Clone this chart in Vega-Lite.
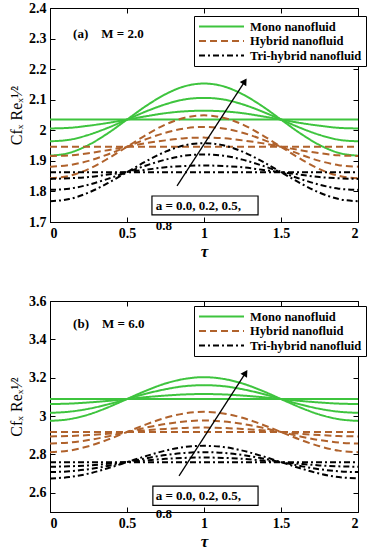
{
  "$schema": "https://vega.github.io/schema/vega-lite/v6.json",
  "background": "white",
  "padding": {"left": 8, "top": 0, "right": 0, "bottom": 0},
  "bounds": "flush",
  "spacing": 79,
  "datasets": {
    "curves": [
      {"p":"a","f":"Mono nanofluid","a":0,"t":0,"v":2.035},{"p":"a","f":"Mono nanofluid","a":0,"t":2,"v":2.035},
      {"p":"a","f":"Mono nanofluid","a":0.2,"t":0,"v":2.006},{"p":"a","f":"Mono nanofluid","a":0.2,"t":0.125,"v":2.008},{"p":"a","f":"Mono nanofluid","a":0.2,"t":0.25,"v":2.015},{"p":"a","f":"Mono nanofluid","a":0.2,"t":0.375,"v":2.024},{"p":"a","f":"Mono nanofluid","a":0.2,"t":0.5,"v":2.035},{"p":"a","f":"Mono nanofluid","a":0.2,"t":0.625,"v":2.046},{"p":"a","f":"Mono nanofluid","a":0.2,"t":0.75,"v":2.056},{"p":"a","f":"Mono nanofluid","a":0.2,"t":0.875,"v":2.062},{"p":"a","f":"Mono nanofluid","a":0.2,"t":1,"v":2.064},{"p":"a","f":"Mono nanofluid","a":0.2,"t":1.125,"v":2.062},{"p":"a","f":"Mono nanofluid","a":0.2,"t":1.25,"v":2.056},{"p":"a","f":"Mono nanofluid","a":0.2,"t":1.375,"v":2.046},{"p":"a","f":"Mono nanofluid","a":0.2,"t":1.5,"v":2.035},{"p":"a","f":"Mono nanofluid","a":0.2,"t":1.625,"v":2.024},{"p":"a","f":"Mono nanofluid","a":0.2,"t":1.75,"v":2.015},{"p":"a","f":"Mono nanofluid","a":0.2,"t":1.875,"v":2.008},{"p":"a","f":"Mono nanofluid","a":0.2,"t":2,"v":2.006},
      {"p":"a","f":"Mono nanofluid","a":0.5,"t":0,"v":1.964},{"p":"a","f":"Mono nanofluid","a":0.5,"t":0.125,"v":1.969},{"p":"a","f":"Mono nanofluid","a":0.5,"t":0.25,"v":1.985},{"p":"a","f":"Mono nanofluid","a":0.5,"t":0.375,"v":2.008},{"p":"a","f":"Mono nanofluid","a":0.5,"t":0.5,"v":2.035},{"p":"a","f":"Mono nanofluid","a":0.5,"t":0.625,"v":2.062},{"p":"a","f":"Mono nanofluid","a":0.5,"t":0.75,"v":2.085},{"p":"a","f":"Mono nanofluid","a":0.5,"t":0.875,"v":2.101},{"p":"a","f":"Mono nanofluid","a":0.5,"t":1,"v":2.106},{"p":"a","f":"Mono nanofluid","a":0.5,"t":1.125,"v":2.101},{"p":"a","f":"Mono nanofluid","a":0.5,"t":1.25,"v":2.085},{"p":"a","f":"Mono nanofluid","a":0.5,"t":1.375,"v":2.062},{"p":"a","f":"Mono nanofluid","a":0.5,"t":1.5,"v":2.035},{"p":"a","f":"Mono nanofluid","a":0.5,"t":1.625,"v":2.008},{"p":"a","f":"Mono nanofluid","a":0.5,"t":1.75,"v":1.985},{"p":"a","f":"Mono nanofluid","a":0.5,"t":1.875,"v":1.969},{"p":"a","f":"Mono nanofluid","a":0.5,"t":2,"v":1.964},
      {"p":"a","f":"Mono nanofluid","a":0.8,"t":0,"v":1.917},{"p":"a","f":"Mono nanofluid","a":0.8,"t":0.125,"v":1.926},{"p":"a","f":"Mono nanofluid","a":0.8,"t":0.25,"v":1.952},{"p":"a","f":"Mono nanofluid","a":0.8,"t":0.375,"v":1.99},{"p":"a","f":"Mono nanofluid","a":0.8,"t":0.5,"v":2.035},{"p":"a","f":"Mono nanofluid","a":0.8,"t":0.625,"v":2.08},{"p":"a","f":"Mono nanofluid","a":0.8,"t":0.75,"v":2.118},{"p":"a","f":"Mono nanofluid","a":0.8,"t":0.875,"v":2.144},{"p":"a","f":"Mono nanofluid","a":0.8,"t":1,"v":2.153},{"p":"a","f":"Mono nanofluid","a":0.8,"t":1.125,"v":2.144},{"p":"a","f":"Mono nanofluid","a":0.8,"t":1.25,"v":2.118},{"p":"a","f":"Mono nanofluid","a":0.8,"t":1.375,"v":2.08},{"p":"a","f":"Mono nanofluid","a":0.8,"t":1.5,"v":2.035},{"p":"a","f":"Mono nanofluid","a":0.8,"t":1.625,"v":1.99},{"p":"a","f":"Mono nanofluid","a":0.8,"t":1.75,"v":1.952},{"p":"a","f":"Mono nanofluid","a":0.8,"t":1.875,"v":1.926},{"p":"a","f":"Mono nanofluid","a":0.8,"t":2,"v":1.917},
      {"p":"a","f":"Hybrid nanofluid","a":0,"t":0,"v":1.946},{"p":"a","f":"Hybrid nanofluid","a":0,"t":2,"v":1.946},
      {"p":"a","f":"Hybrid nanofluid","a":0.2,"t":0,"v":1.916},{"p":"a","f":"Hybrid nanofluid","a":0.2,"t":0.125,"v":1.918},{"p":"a","f":"Hybrid nanofluid","a":0.2,"t":0.25,"v":1.925},{"p":"a","f":"Hybrid nanofluid","a":0.2,"t":0.375,"v":1.935},{"p":"a","f":"Hybrid nanofluid","a":0.2,"t":0.5,"v":1.946},{"p":"a","f":"Hybrid nanofluid","a":0.2,"t":0.625,"v":1.958},{"p":"a","f":"Hybrid nanofluid","a":0.2,"t":0.75,"v":1.967},{"p":"a","f":"Hybrid nanofluid","a":0.2,"t":0.875,"v":1.974},{"p":"a","f":"Hybrid nanofluid","a":0.2,"t":1,"v":1.976},{"p":"a","f":"Hybrid nanofluid","a":0.2,"t":1.125,"v":1.974},{"p":"a","f":"Hybrid nanofluid","a":0.2,"t":1.25,"v":1.967},{"p":"a","f":"Hybrid nanofluid","a":0.2,"t":1.375,"v":1.958},{"p":"a","f":"Hybrid nanofluid","a":0.2,"t":1.5,"v":1.946},{"p":"a","f":"Hybrid nanofluid","a":0.2,"t":1.625,"v":1.935},{"p":"a","f":"Hybrid nanofluid","a":0.2,"t":1.75,"v":1.925},{"p":"a","f":"Hybrid nanofluid","a":0.2,"t":1.875,"v":1.918},{"p":"a","f":"Hybrid nanofluid","a":0.2,"t":2,"v":1.916},
      {"p":"a","f":"Hybrid nanofluid","a":0.5,"t":0,"v":1.881},{"p":"a","f":"Hybrid nanofluid","a":0.5,"t":0.125,"v":1.886},{"p":"a","f":"Hybrid nanofluid","a":0.5,"t":0.25,"v":1.9},{"p":"a","f":"Hybrid nanofluid","a":0.5,"t":0.375,"v":1.921},{"p":"a","f":"Hybrid nanofluid","a":0.5,"t":0.5,"v":1.946},{"p":"a","f":"Hybrid nanofluid","a":0.5,"t":0.625,"v":1.971},{"p":"a","f":"Hybrid nanofluid","a":0.5,"t":0.75,"v":1.992},{"p":"a","f":"Hybrid nanofluid","a":0.5,"t":0.875,"v":2.006},{"p":"a","f":"Hybrid nanofluid","a":0.5,"t":1,"v":2.011},{"p":"a","f":"Hybrid nanofluid","a":0.5,"t":1.125,"v":2.006},{"p":"a","f":"Hybrid nanofluid","a":0.5,"t":1.25,"v":1.992},{"p":"a","f":"Hybrid nanofluid","a":0.5,"t":1.375,"v":1.971},{"p":"a","f":"Hybrid nanofluid","a":0.5,"t":1.5,"v":1.946},{"p":"a","f":"Hybrid nanofluid","a":0.5,"t":1.625,"v":1.921},{"p":"a","f":"Hybrid nanofluid","a":0.5,"t":1.75,"v":1.9},{"p":"a","f":"Hybrid nanofluid","a":0.5,"t":1.875,"v":1.886},{"p":"a","f":"Hybrid nanofluid","a":0.5,"t":2,"v":1.881},
      {"p":"a","f":"Hybrid nanofluid","a":0.8,"t":0,"v":1.843},{"p":"a","f":"Hybrid nanofluid","a":0.8,"t":0.125,"v":1.851},{"p":"a","f":"Hybrid nanofluid","a":0.8,"t":0.25,"v":1.873},{"p":"a","f":"Hybrid nanofluid","a":0.8,"t":0.375,"v":1.907},{"p":"a","f":"Hybrid nanofluid","a":0.8,"t":0.5,"v":1.946},{"p":"a","f":"Hybrid nanofluid","a":0.8,"t":0.625,"v":1.985},{"p":"a","f":"Hybrid nanofluid","a":0.8,"t":0.75,"v":2.019},{"p":"a","f":"Hybrid nanofluid","a":0.8,"t":0.875,"v":2.041},{"p":"a","f":"Hybrid nanofluid","a":0.8,"t":1,"v":2.049},{"p":"a","f":"Hybrid nanofluid","a":0.8,"t":1.125,"v":2.041},{"p":"a","f":"Hybrid nanofluid","a":0.8,"t":1.25,"v":2.019},{"p":"a","f":"Hybrid nanofluid","a":0.8,"t":1.375,"v":1.985},{"p":"a","f":"Hybrid nanofluid","a":0.8,"t":1.5,"v":1.946},{"p":"a","f":"Hybrid nanofluid","a":0.8,"t":1.625,"v":1.907},{"p":"a","f":"Hybrid nanofluid","a":0.8,"t":1.75,"v":1.873},{"p":"a","f":"Hybrid nanofluid","a":0.8,"t":1.875,"v":1.851},{"p":"a","f":"Hybrid nanofluid","a":0.8,"t":2,"v":1.843},
      {"p":"a","f":"Tri-hybrid nanofluid","a":0,"t":0,"v":1.863},{"p":"a","f":"Tri-hybrid nanofluid","a":0,"t":2,"v":1.863},
      {"p":"a","f":"Tri-hybrid nanofluid","a":0.2,"t":0,"v":1.841},{"p":"a","f":"Tri-hybrid nanofluid","a":0.2,"t":0.125,"v":1.843},{"p":"a","f":"Tri-hybrid nanofluid","a":0.2,"t":0.25,"v":1.847},{"p":"a","f":"Tri-hybrid nanofluid","a":0.2,"t":0.375,"v":1.855},{"p":"a","f":"Tri-hybrid nanofluid","a":0.2,"t":0.5,"v":1.863},{"p":"a","f":"Tri-hybrid nanofluid","a":0.2,"t":0.625,"v":1.871},{"p":"a","f":"Tri-hybrid nanofluid","a":0.2,"t":0.75,"v":1.879},{"p":"a","f":"Tri-hybrid nanofluid","a":0.2,"t":0.875,"v":1.883},{"p":"a","f":"Tri-hybrid nanofluid","a":0.2,"t":1,"v":1.885},{"p":"a","f":"Tri-hybrid nanofluid","a":0.2,"t":1.125,"v":1.883},{"p":"a","f":"Tri-hybrid nanofluid","a":0.2,"t":1.25,"v":1.879},{"p":"a","f":"Tri-hybrid nanofluid","a":0.2,"t":1.375,"v":1.871},{"p":"a","f":"Tri-hybrid nanofluid","a":0.2,"t":1.5,"v":1.863},{"p":"a","f":"Tri-hybrid nanofluid","a":0.2,"t":1.625,"v":1.855},{"p":"a","f":"Tri-hybrid nanofluid","a":0.2,"t":1.75,"v":1.847},{"p":"a","f":"Tri-hybrid nanofluid","a":0.2,"t":1.875,"v":1.843},{"p":"a","f":"Tri-hybrid nanofluid","a":0.2,"t":2,"v":1.841},
      {"p":"a","f":"Tri-hybrid nanofluid","a":0.5,"t":0,"v":1.805},{"p":"a","f":"Tri-hybrid nanofluid","a":0.5,"t":0.125,"v":1.809},{"p":"a","f":"Tri-hybrid nanofluid","a":0.5,"t":0.25,"v":1.822},{"p":"a","f":"Tri-hybrid nanofluid","a":0.5,"t":0.375,"v":1.841},{"p":"a","f":"Tri-hybrid nanofluid","a":0.5,"t":0.5,"v":1.863},{"p":"a","f":"Tri-hybrid nanofluid","a":0.5,"t":0.625,"v":1.885},{"p":"a","f":"Tri-hybrid nanofluid","a":0.5,"t":0.75,"v":1.904},{"p":"a","f":"Tri-hybrid nanofluid","a":0.5,"t":0.875,"v":1.917},{"p":"a","f":"Tri-hybrid nanofluid","a":0.5,"t":1,"v":1.921},{"p":"a","f":"Tri-hybrid nanofluid","a":0.5,"t":1.125,"v":1.917},{"p":"a","f":"Tri-hybrid nanofluid","a":0.5,"t":1.25,"v":1.904},{"p":"a","f":"Tri-hybrid nanofluid","a":0.5,"t":1.375,"v":1.885},{"p":"a","f":"Tri-hybrid nanofluid","a":0.5,"t":1.5,"v":1.863},{"p":"a","f":"Tri-hybrid nanofluid","a":0.5,"t":1.625,"v":1.841},{"p":"a","f":"Tri-hybrid nanofluid","a":0.5,"t":1.75,"v":1.822},{"p":"a","f":"Tri-hybrid nanofluid","a":0.5,"t":1.875,"v":1.809},{"p":"a","f":"Tri-hybrid nanofluid","a":0.5,"t":2,"v":1.805},
      {"p":"a","f":"Tri-hybrid nanofluid","a":0.8,"t":0,"v":1.768},{"p":"a","f":"Tri-hybrid nanofluid","a":0.8,"t":0.125,"v":1.775},{"p":"a","f":"Tri-hybrid nanofluid","a":0.8,"t":0.25,"v":1.796},{"p":"a","f":"Tri-hybrid nanofluid","a":0.8,"t":0.375,"v":1.827},{"p":"a","f":"Tri-hybrid nanofluid","a":0.8,"t":0.5,"v":1.863},{"p":"a","f":"Tri-hybrid nanofluid","a":0.8,"t":0.625,"v":1.899},{"p":"a","f":"Tri-hybrid nanofluid","a":0.8,"t":0.75,"v":1.93},{"p":"a","f":"Tri-hybrid nanofluid","a":0.8,"t":0.875,"v":1.951},{"p":"a","f":"Tri-hybrid nanofluid","a":0.8,"t":1,"v":1.958},{"p":"a","f":"Tri-hybrid nanofluid","a":0.8,"t":1.125,"v":1.951},{"p":"a","f":"Tri-hybrid nanofluid","a":0.8,"t":1.25,"v":1.93},{"p":"a","f":"Tri-hybrid nanofluid","a":0.8,"t":1.375,"v":1.899},{"p":"a","f":"Tri-hybrid nanofluid","a":0.8,"t":1.5,"v":1.863},{"p":"a","f":"Tri-hybrid nanofluid","a":0.8,"t":1.625,"v":1.827},{"p":"a","f":"Tri-hybrid nanofluid","a":0.8,"t":1.75,"v":1.796},{"p":"a","f":"Tri-hybrid nanofluid","a":0.8,"t":1.875,"v":1.775},{"p":"a","f":"Tri-hybrid nanofluid","a":0.8,"t":2,"v":1.768},
      {"p":"b","f":"Mono nanofluid","a":0,"t":0,"v":3.089},{"p":"b","f":"Mono nanofluid","a":0,"t":2,"v":3.089},
      {"p":"b","f":"Mono nanofluid","a":0.2,"t":0,"v":3.063},{"p":"b","f":"Mono nanofluid","a":0.2,"t":0.125,"v":3.065},{"p":"b","f":"Mono nanofluid","a":0.2,"t":0.25,"v":3.071},{"p":"b","f":"Mono nanofluid","a":0.2,"t":0.375,"v":3.079},{"p":"b","f":"Mono nanofluid","a":0.2,"t":0.5,"v":3.089},{"p":"b","f":"Mono nanofluid","a":0.2,"t":0.625,"v":3.099},{"p":"b","f":"Mono nanofluid","a":0.2,"t":0.75,"v":3.107},{"p":"b","f":"Mono nanofluid","a":0.2,"t":0.875,"v":3.113},{"p":"b","f":"Mono nanofluid","a":0.2,"t":1,"v":3.115},{"p":"b","f":"Mono nanofluid","a":0.2,"t":1.125,"v":3.113},{"p":"b","f":"Mono nanofluid","a":0.2,"t":1.25,"v":3.107},{"p":"b","f":"Mono nanofluid","a":0.2,"t":1.375,"v":3.099},{"p":"b","f":"Mono nanofluid","a":0.2,"t":1.5,"v":3.089},{"p":"b","f":"Mono nanofluid","a":0.2,"t":1.625,"v":3.079},{"p":"b","f":"Mono nanofluid","a":0.2,"t":1.75,"v":3.071},{"p":"b","f":"Mono nanofluid","a":0.2,"t":1.875,"v":3.065},{"p":"b","f":"Mono nanofluid","a":0.2,"t":2,"v":3.063},
      {"p":"b","f":"Mono nanofluid","a":0.5,"t":0,"v":3.017},{"p":"b","f":"Mono nanofluid","a":0.5,"t":0.125,"v":3.023},{"p":"b","f":"Mono nanofluid","a":0.5,"t":0.25,"v":3.038},{"p":"b","f":"Mono nanofluid","a":0.5,"t":0.375,"v":3.061},{"p":"b","f":"Mono nanofluid","a":0.5,"t":0.5,"v":3.089},{"p":"b","f":"Mono nanofluid","a":0.5,"t":0.625,"v":3.117},{"p":"b","f":"Mono nanofluid","a":0.5,"t":0.75,"v":3.14},{"p":"b","f":"Mono nanofluid","a":0.5,"t":0.875,"v":3.156},{"p":"b","f":"Mono nanofluid","a":0.5,"t":1,"v":3.161},{"p":"b","f":"Mono nanofluid","a":0.5,"t":1.125,"v":3.156},{"p":"b","f":"Mono nanofluid","a":0.5,"t":1.25,"v":3.14},{"p":"b","f":"Mono nanofluid","a":0.5,"t":1.375,"v":3.117},{"p":"b","f":"Mono nanofluid","a":0.5,"t":1.5,"v":3.089},{"p":"b","f":"Mono nanofluid","a":0.5,"t":1.625,"v":3.061},{"p":"b","f":"Mono nanofluid","a":0.5,"t":1.75,"v":3.038},{"p":"b","f":"Mono nanofluid","a":0.5,"t":1.875,"v":3.023},{"p":"b","f":"Mono nanofluid","a":0.5,"t":2,"v":3.017},
      {"p":"b","f":"Mono nanofluid","a":0.8,"t":0,"v":2.975},{"p":"b","f":"Mono nanofluid","a":0.8,"t":0.125,"v":2.984},{"p":"b","f":"Mono nanofluid","a":0.8,"t":0.25,"v":3.008},{"p":"b","f":"Mono nanofluid","a":0.8,"t":0.375,"v":3.045},{"p":"b","f":"Mono nanofluid","a":0.8,"t":0.5,"v":3.089},{"p":"b","f":"Mono nanofluid","a":0.8,"t":0.625,"v":3.133},{"p":"b","f":"Mono nanofluid","a":0.8,"t":0.75,"v":3.17},{"p":"b","f":"Mono nanofluid","a":0.8,"t":0.875,"v":3.194},{"p":"b","f":"Mono nanofluid","a":0.8,"t":1,"v":3.203},{"p":"b","f":"Mono nanofluid","a":0.8,"t":1.125,"v":3.194},{"p":"b","f":"Mono nanofluid","a":0.8,"t":1.25,"v":3.17},{"p":"b","f":"Mono nanofluid","a":0.8,"t":1.375,"v":3.133},{"p":"b","f":"Mono nanofluid","a":0.8,"t":1.5,"v":3.089},{"p":"b","f":"Mono nanofluid","a":0.8,"t":1.625,"v":3.045},{"p":"b","f":"Mono nanofluid","a":0.8,"t":1.75,"v":3.008},{"p":"b","f":"Mono nanofluid","a":0.8,"t":1.875,"v":2.984},{"p":"b","f":"Mono nanofluid","a":0.8,"t":2,"v":2.975},
      {"p":"b","f":"Hybrid nanofluid","a":0,"t":0,"v":2.917},{"p":"b","f":"Hybrid nanofluid","a":0,"t":2,"v":2.917},
      {"p":"b","f":"Hybrid nanofluid","a":0.2,"t":0,"v":2.894},{"p":"b","f":"Hybrid nanofluid","a":0.2,"t":0.125,"v":2.896},{"p":"b","f":"Hybrid nanofluid","a":0.2,"t":0.25,"v":2.901},{"p":"b","f":"Hybrid nanofluid","a":0.2,"t":0.375,"v":2.908},{"p":"b","f":"Hybrid nanofluid","a":0.2,"t":0.5,"v":2.917},{"p":"b","f":"Hybrid nanofluid","a":0.2,"t":0.625,"v":2.926},{"p":"b","f":"Hybrid nanofluid","a":0.2,"t":0.75,"v":2.933},{"p":"b","f":"Hybrid nanofluid","a":0.2,"t":0.875,"v":2.938},{"p":"b","f":"Hybrid nanofluid","a":0.2,"t":1,"v":2.94},{"p":"b","f":"Hybrid nanofluid","a":0.2,"t":1.125,"v":2.938},{"p":"b","f":"Hybrid nanofluid","a":0.2,"t":1.25,"v":2.933},{"p":"b","f":"Hybrid nanofluid","a":0.2,"t":1.375,"v":2.926},{"p":"b","f":"Hybrid nanofluid","a":0.2,"t":1.5,"v":2.917},{"p":"b","f":"Hybrid nanofluid","a":0.2,"t":1.625,"v":2.908},{"p":"b","f":"Hybrid nanofluid","a":0.2,"t":1.75,"v":2.901},{"p":"b","f":"Hybrid nanofluid","a":0.2,"t":1.875,"v":2.896},{"p":"b","f":"Hybrid nanofluid","a":0.2,"t":2,"v":2.894},
      {"p":"b","f":"Hybrid nanofluid","a":0.5,"t":0,"v":2.857},{"p":"b","f":"Hybrid nanofluid","a":0.5,"t":0.125,"v":2.862},{"p":"b","f":"Hybrid nanofluid","a":0.5,"t":0.25,"v":2.875},{"p":"b","f":"Hybrid nanofluid","a":0.5,"t":0.375,"v":2.894},{"p":"b","f":"Hybrid nanofluid","a":0.5,"t":0.5,"v":2.917},{"p":"b","f":"Hybrid nanofluid","a":0.5,"t":0.625,"v":2.94},{"p":"b","f":"Hybrid nanofluid","a":0.5,"t":0.75,"v":2.959},{"p":"b","f":"Hybrid nanofluid","a":0.5,"t":0.875,"v":2.972},{"p":"b","f":"Hybrid nanofluid","a":0.5,"t":1,"v":2.977},{"p":"b","f":"Hybrid nanofluid","a":0.5,"t":1.125,"v":2.972},{"p":"b","f":"Hybrid nanofluid","a":0.5,"t":1.25,"v":2.959},{"p":"b","f":"Hybrid nanofluid","a":0.5,"t":1.375,"v":2.94},{"p":"b","f":"Hybrid nanofluid","a":0.5,"t":1.5,"v":2.917},{"p":"b","f":"Hybrid nanofluid","a":0.5,"t":1.625,"v":2.894},{"p":"b","f":"Hybrid nanofluid","a":0.5,"t":1.75,"v":2.875},{"p":"b","f":"Hybrid nanofluid","a":0.5,"t":1.875,"v":2.862},{"p":"b","f":"Hybrid nanofluid","a":0.5,"t":2,"v":2.857},
      {"p":"b","f":"Hybrid nanofluid","a":0.8,"t":0,"v":2.812},{"p":"b","f":"Hybrid nanofluid","a":0.8,"t":0.125,"v":2.82},{"p":"b","f":"Hybrid nanofluid","a":0.8,"t":0.25,"v":2.843},{"p":"b","f":"Hybrid nanofluid","a":0.8,"t":0.375,"v":2.877},{"p":"b","f":"Hybrid nanofluid","a":0.8,"t":0.5,"v":2.917},{"p":"b","f":"Hybrid nanofluid","a":0.8,"t":0.625,"v":2.957},{"p":"b","f":"Hybrid nanofluid","a":0.8,"t":0.75,"v":2.991},{"p":"b","f":"Hybrid nanofluid","a":0.8,"t":0.875,"v":3.014},{"p":"b","f":"Hybrid nanofluid","a":0.8,"t":1,"v":3.022},{"p":"b","f":"Hybrid nanofluid","a":0.8,"t":1.125,"v":3.014},{"p":"b","f":"Hybrid nanofluid","a":0.8,"t":1.25,"v":2.991},{"p":"b","f":"Hybrid nanofluid","a":0.8,"t":1.375,"v":2.957},{"p":"b","f":"Hybrid nanofluid","a":0.8,"t":1.5,"v":2.917},{"p":"b","f":"Hybrid nanofluid","a":0.8,"t":1.625,"v":2.877},{"p":"b","f":"Hybrid nanofluid","a":0.8,"t":1.75,"v":2.843},{"p":"b","f":"Hybrid nanofluid","a":0.8,"t":1.875,"v":2.82},{"p":"b","f":"Hybrid nanofluid","a":0.8,"t":2,"v":2.812},
      {"p":"b","f":"Tri-hybrid nanofluid","a":0,"t":0,"v":2.76},{"p":"b","f":"Tri-hybrid nanofluid","a":0,"t":2,"v":2.76},
      {"p":"b","f":"Tri-hybrid nanofluid","a":0.2,"t":0,"v":2.736},{"p":"b","f":"Tri-hybrid nanofluid","a":0.2,"t":0.125,"v":2.738},{"p":"b","f":"Tri-hybrid nanofluid","a":0.2,"t":0.25,"v":2.743},{"p":"b","f":"Tri-hybrid nanofluid","a":0.2,"t":0.375,"v":2.751},{"p":"b","f":"Tri-hybrid nanofluid","a":0.2,"t":0.5,"v":2.76},{"p":"b","f":"Tri-hybrid nanofluid","a":0.2,"t":0.625,"v":2.769},{"p":"b","f":"Tri-hybrid nanofluid","a":0.2,"t":0.75,"v":2.777},{"p":"b","f":"Tri-hybrid nanofluid","a":0.2,"t":0.875,"v":2.782},{"p":"b","f":"Tri-hybrid nanofluid","a":0.2,"t":1,"v":2.784},{"p":"b","f":"Tri-hybrid nanofluid","a":0.2,"t":1.125,"v":2.782},{"p":"b","f":"Tri-hybrid nanofluid","a":0.2,"t":1.25,"v":2.777},{"p":"b","f":"Tri-hybrid nanofluid","a":0.2,"t":1.375,"v":2.769},{"p":"b","f":"Tri-hybrid nanofluid","a":0.2,"t":1.5,"v":2.76},{"p":"b","f":"Tri-hybrid nanofluid","a":0.2,"t":1.625,"v":2.751},{"p":"b","f":"Tri-hybrid nanofluid","a":0.2,"t":1.75,"v":2.743},{"p":"b","f":"Tri-hybrid nanofluid","a":0.2,"t":1.875,"v":2.738},{"p":"b","f":"Tri-hybrid nanofluid","a":0.2,"t":2,"v":2.736},
      {"p":"b","f":"Tri-hybrid nanofluid","a":0.5,"t":0,"v":2.708},{"p":"b","f":"Tri-hybrid nanofluid","a":0.5,"t":0.125,"v":2.712},{"p":"b","f":"Tri-hybrid nanofluid","a":0.5,"t":0.25,"v":2.723},{"p":"b","f":"Tri-hybrid nanofluid","a":0.5,"t":0.375,"v":2.74},{"p":"b","f":"Tri-hybrid nanofluid","a":0.5,"t":0.5,"v":2.76},{"p":"b","f":"Tri-hybrid nanofluid","a":0.5,"t":0.625,"v":2.78},{"p":"b","f":"Tri-hybrid nanofluid","a":0.5,"t":0.75,"v":2.797},{"p":"b","f":"Tri-hybrid nanofluid","a":0.5,"t":0.875,"v":2.808},{"p":"b","f":"Tri-hybrid nanofluid","a":0.5,"t":1,"v":2.812},{"p":"b","f":"Tri-hybrid nanofluid","a":0.5,"t":1.125,"v":2.808},{"p":"b","f":"Tri-hybrid nanofluid","a":0.5,"t":1.25,"v":2.797},{"p":"b","f":"Tri-hybrid nanofluid","a":0.5,"t":1.375,"v":2.78},{"p":"b","f":"Tri-hybrid nanofluid","a":0.5,"t":1.5,"v":2.76},{"p":"b","f":"Tri-hybrid nanofluid","a":0.5,"t":1.625,"v":2.74},{"p":"b","f":"Tri-hybrid nanofluid","a":0.5,"t":1.75,"v":2.723},{"p":"b","f":"Tri-hybrid nanofluid","a":0.5,"t":1.875,"v":2.712},{"p":"b","f":"Tri-hybrid nanofluid","a":0.5,"t":2,"v":2.708},
      {"p":"b","f":"Tri-hybrid nanofluid","a":0.8,"t":0,"v":2.675},{"p":"b","f":"Tri-hybrid nanofluid","a":0.8,"t":0.125,"v":2.682},{"p":"b","f":"Tri-hybrid nanofluid","a":0.8,"t":0.25,"v":2.7},{"p":"b","f":"Tri-hybrid nanofluid","a":0.8,"t":0.375,"v":2.728},{"p":"b","f":"Tri-hybrid nanofluid","a":0.8,"t":0.5,"v":2.76},{"p":"b","f":"Tri-hybrid nanofluid","a":0.8,"t":0.625,"v":2.792},{"p":"b","f":"Tri-hybrid nanofluid","a":0.8,"t":0.75,"v":2.82},{"p":"b","f":"Tri-hybrid nanofluid","a":0.8,"t":0.875,"v":2.839},{"p":"b","f":"Tri-hybrid nanofluid","a":0.8,"t":1,"v":2.845},{"p":"b","f":"Tri-hybrid nanofluid","a":0.8,"t":1.125,"v":2.839},{"p":"b","f":"Tri-hybrid nanofluid","a":0.8,"t":1.25,"v":2.82},{"p":"b","f":"Tri-hybrid nanofluid","a":0.8,"t":1.375,"v":2.792},{"p":"b","f":"Tri-hybrid nanofluid","a":0.8,"t":1.5,"v":2.76},{"p":"b","f":"Tri-hybrid nanofluid","a":0.8,"t":1.625,"v":2.728},{"p":"b","f":"Tri-hybrid nanofluid","a":0.8,"t":1.75,"v":2.7},{"p":"b","f":"Tri-hybrid nanofluid","a":0.8,"t":1.875,"v":2.682},{"p":"b","f":"Tri-hybrid nanofluid","a":0.8,"t":2,"v":2.675}
    ],
    "arrows": [
      {"p":"a","x":0.825,"y":1.818,"x2":1.265,"y2":2.16},
      {"p":"b","x":0.838,"y":2.688,"x2":1.27,"y2":3.225}
    ],
    "boxes": [
      {"p":"a","x":0.662,"x2":1.351,"y":1.723,"y2":1.785},
      {"p":"b","x":0.668,"x2":1.351,"y":2.535,"y2":2.635}
    ],
    "notes": [
      {"p":"a","x":0.15,"y":2.314,"txt":"(a)\u00a0\u00a0\u00a0 M = 2.0"},
      {"p":"a","x":0.686,"y":1.752,"txt":"a = 0.0, 0.2, 0.5,"},
      {"p":"a","x":0.686,"y":1.686,"txt":"0.8"},
      {"p":"b","x":0.15,"y":3.478,"txt":"(b)\u00a0\u00a0\u00a0 M = 6.0"},
      {"p":"b","x":0.686,"y":2.583,"txt":"a = 0.0, 0.2, 0.5,"},
      {"p":"b","x":0.686,"y":2.489,"txt":"0.8"}
    ]
  },
  "vconcat": [
    {
      "width": 308,
      "height": 214,
      "layer": [
        {
          "data": {"name": "curves"},
          "transform": [{"filter": "datum.p == 'a'"}],
          "mark": {"type": "line", "strokeWidth": 2, "interpolate": "monotone"},
          "encoding": {
            "x": {"field": "t", "type": "quantitative", "scale": {"domain": [0, 2], "nice": false}, "axis": {"orient": "bottom", "values": [0, 0.5, 1, 1.5, 2], "format": "~g", "title": "τ", "titleFontStyle": "italic", "titleFontWeight": "bold", "titleFontSize": 17, "titlePadding": 3}},
            "y": {"field": "v", "type": "quantitative", "scale": {"domain": [1.7, 2.4], "nice": false, "zero": false}, "axis": {"orient": "left", "values": [1.7, 1.8, 1.9, 2, 2.1, 2.2, 2.3, 2.4], "format": "~g", "title": "Cfₓ Reₓ¹⁄²", "titleFontSize": 16, "titleFontWeight": "normal", "titlePadding": 4}},
            "color": {"field": "f", "type": "nominal", "scale": {"domain": ["Mono nanofluid", "Hybrid nanofluid", "Tri-hybrid nanofluid"], "range": ["#3ec43e", "#b0622c", "#000000"]}, "legend": {"title": null, "orient": "none", "legendX": 144, "legendY": 8, "symbolType": "stroke", "symbolSize": 2025, "symbolStrokeWidth": 2, "clipHeight": 13, "labelFont": "Liberation Serif", "labelFontSize": 12.5, "labelFontWeight": "bold", "labelColor": "black", "labelOffset": 5, "strokeColor": "black", "fillColor": "white", "padding": 4, "rowPadding": 1.5}},
            "strokeDash": {"field": "f", "type": "nominal", "scale": {"domain": ["Mono nanofluid", "Hybrid nanofluid", "Tri-hybrid nanofluid"], "range": [[1, 0], [7, 4], [6, 3, 2, 3]]}, "legend": {"title": null, "orient": "none", "legendX": 144, "legendY": 8, "symbolType": "stroke", "symbolSize": 2025, "symbolStrokeWidth": 2, "clipHeight": 13, "labelFont": "Liberation Serif", "labelFontSize": 12.5, "labelFontWeight": "bold", "labelColor": "black", "labelOffset": 5, "strokeColor": "black", "fillColor": "white", "padding": 4, "rowPadding": 1.5}},
            "detail": {"field": "a", "type": "nominal"}
          }
        },
        {
          "data": {"name": "arrows"},
          "transform": [{"filter": "datum.p == 'a'"}],
          "mark": {"type": "rule", "color": "black", "strokeWidth": 1.3},
          "encoding": {
            "x": {"field": "x", "type": "quantitative", "axis": {"orient": "top", "values": [0, 0.5, 1, 1.5, 2], "labels": false, "title": null, "domain": false}},
            "y": {"field": "y", "type": "quantitative", "axis": {"orient": "right", "values": [1.7, 1.8, 1.9, 2, 2.1, 2.2, 2.3, 2.4], "labels": false, "title": null, "domain": false}},
            "x2": {"field": "x2"},
            "y2": {"field": "y2"}
          }
        },
        {
          "data": {"name": "arrows"},
          "transform": [{"filter": "datum.p == 'a'"}],
          "mark": {"type": "point", "shape": "triangle-up", "filled": true, "color": "black", "opacity": 1, "size": 60, "angle": 32.6},
          "encoding": {
            "x": {"field": "x2", "type": "quantitative", "axis": null},
            "y": {"field": "y2", "type": "quantitative", "axis": null}
          }
        },
        {
          "data": {"name": "boxes"},
          "transform": [{"filter": "datum.p == 'a'"}],
          "mark": {"type": "rect", "fill": "white", "stroke": "black", "strokeWidth": 1.2},
          "encoding": {
            "x": {"field": "x", "type": "quantitative", "axis": null},
            "x2": {"field": "x2"},
            "y": {"field": "y", "type": "quantitative", "axis": null},
            "y2": {"field": "y2"}
          }
        },
        {
          "data": {"name": "notes"},
          "transform": [{"filter": "datum.p == 'a'"}],
          "mark": {"type": "text", "align": "left", "baseline": "middle"},
          "encoding": {
            "x": {"field": "x", "type": "quantitative", "axis": null},
            "y": {"field": "y", "type": "quantitative", "axis": null},
            "text": {"field": "txt"}
          }
        }
      ]
    },
    {
      "width": 308,
      "height": 211,
      "layer": [
        {
          "data": {"name": "curves"},
          "transform": [{"filter": "datum.p == 'b'"}],
          "mark": {"type": "line", "strokeWidth": 2, "interpolate": "monotone"},
          "encoding": {
            "x": {"field": "t", "type": "quantitative", "scale": {"domain": [0, 2], "nice": false}, "axis": {"orient": "bottom", "values": [0, 0.5, 1, 1.5, 2], "format": "~g", "title": "τ", "titleFontStyle": "italic", "titleFontWeight": "bold", "titleFontSize": 17, "titlePadding": 3}},
            "y": {"field": "v", "type": "quantitative", "scale": {"domain": [2.5, 3.6], "nice": false, "zero": false}, "axis": {"orient": "left", "values": [2.6, 2.8, 3, 3.2, 3.4, 3.6], "format": "~g", "title": "Cfₓ Reₓ¹⁄²", "titleFontSize": 16, "titleFontWeight": "normal", "titlePadding": 4}},
            "color": {"field": "f", "type": "nominal", "scale": {"domain": ["Mono nanofluid", "Hybrid nanofluid", "Tri-hybrid nanofluid"], "range": ["#3ec43e", "#b0622c", "#000000"]}, "legend": {"title": null, "orient": "none", "legendX": 144, "legendY": 5, "symbolType": "stroke", "symbolSize": 2025, "symbolStrokeWidth": 2, "clipHeight": 13, "labelFont": "Liberation Serif", "labelFontSize": 12.5, "labelFontWeight": "bold", "labelColor": "black", "labelOffset": 5, "strokeColor": "black", "fillColor": "white", "padding": 4, "rowPadding": 1.5}},
            "strokeDash": {"field": "f", "type": "nominal", "scale": {"domain": ["Mono nanofluid", "Hybrid nanofluid", "Tri-hybrid nanofluid"], "range": [[1, 0], [7, 4], [6, 3, 2, 3]]}, "legend": {"title": null, "orient": "none", "legendX": 144, "legendY": 5, "symbolType": "stroke", "symbolSize": 2025, "symbolStrokeWidth": 2, "clipHeight": 13, "labelFont": "Liberation Serif", "labelFontSize": 12.5, "labelFontWeight": "bold", "labelColor": "black", "labelOffset": 5, "strokeColor": "black", "fillColor": "white", "padding": 4, "rowPadding": 1.5}},
            "detail": {"field": "a", "type": "nominal"}
          }
        },
        {
          "data": {"name": "arrows"},
          "transform": [{"filter": "datum.p == 'b'"}],
          "mark": {"type": "rule", "color": "black", "strokeWidth": 1.3},
          "encoding": {
            "x": {"field": "x", "type": "quantitative", "axis": {"orient": "top", "values": [0, 0.5, 1, 1.5, 2], "labels": false, "title": null, "domain": false}},
            "y": {"field": "y", "type": "quantitative", "axis": {"orient": "right", "values": [2.6, 2.8, 3, 3.2, 3.4, 3.6], "labels": false, "title": null, "domain": false}},
            "x2": {"field": "x2"},
            "y2": {"field": "y2"}
          }
        },
        {
          "data": {"name": "arrows"},
          "transform": [{"filter": "datum.p == 'b'"}],
          "mark": {"type": "point", "shape": "triangle-up", "filled": true, "color": "black", "opacity": 1, "size": 60, "angle": 32.7},
          "encoding": {
            "x": {"field": "x2", "type": "quantitative", "axis": null},
            "y": {"field": "y2", "type": "quantitative", "axis": null}
          }
        },
        {
          "data": {"name": "boxes"},
          "transform": [{"filter": "datum.p == 'b'"}],
          "mark": {"type": "rect", "fill": "white", "stroke": "black", "strokeWidth": 1.2},
          "encoding": {
            "x": {"field": "x", "type": "quantitative", "axis": null},
            "x2": {"field": "x2"},
            "y": {"field": "y", "type": "quantitative", "axis": null},
            "y2": {"field": "y2"}
          }
        },
        {
          "data": {"name": "notes"},
          "transform": [{"filter": "datum.p == 'b'"}],
          "mark": {"type": "text", "align": "left", "baseline": "middle"},
          "encoding": {
            "x": {"field": "x", "type": "quantitative", "axis": null},
            "y": {"field": "y", "type": "quantitative", "axis": null},
            "text": {"field": "txt"}
          }
        }
      ]
    }
  ],
  "resolve": {
    "scale": {"x": "independent", "y": "independent", "color": "independent", "strokeDash": "independent"},
    "axis": {"x": "independent", "y": "independent"},
    "legend": {"color": "independent", "strokeDash": "independent"}
  },
  "config": {
    "view": {"stroke": "black", "strokeWidth": 1},
    "axis": {
      "labelFont": "Liberation Serif", "labelFontWeight": "bold", "labelFontSize": 14, "labelColor": "black",
      "titleFont": "Liberation Serif", "titleColor": "black",
      "domainColor": "black", "tickColor": "black", "grid": false,
      "tickSize": -5, "labelPadding": 9
    },
    "text": {"font": "Liberation Serif", "fontWeight": "bold", "fontSize": 13, "color": "black"}
  }
}
